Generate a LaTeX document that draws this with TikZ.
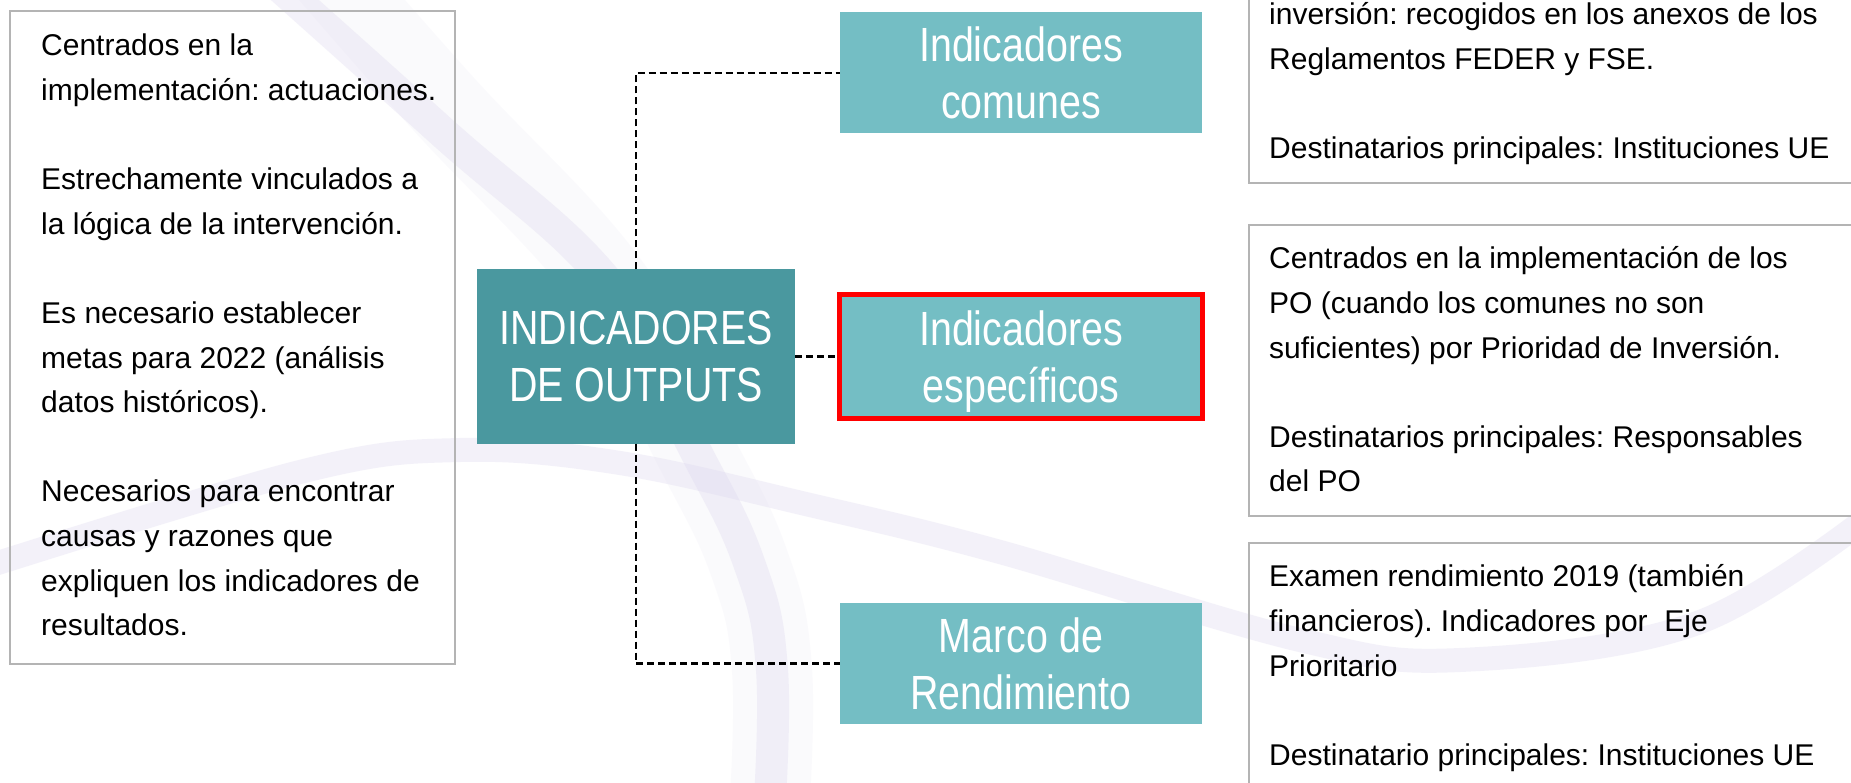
\documentclass[tikz,border=0pt]{standalone}
\usepackage{fontspec}
\setmainfont{Liberation Sans}
\newfontfamily\narrowfont[FakeStretch=0.82]{Liberation Sans}
\usetikzlibrary{calc}
\frenchspacing
\definecolor{tealdark}{HTML}{4A989F}
\definecolor{teallight}{HTML}{74BEC4}
\definecolor{boxgray}{HTML}{B4B4B4}
\definecolor{swirlcol}{HTML}{DCD6EE}
\begin{document}
\begin{tikzpicture}[x=1pt,y=-1pt,
  graybox/.style={draw=boxgray,line width=2pt,inner sep=0pt,anchor=north west},
  bodytxt/.style={anchor=north west,inner sep=0pt,align=left,text=black,
    font=\fontsize{30pt}{44.6pt}\selectfont},
  tealbox/.style={fill=teallight,inner sep=0pt,minimum width=362pt,minimum height=121pt,
    text=white,align=center,text depth=0pt,font=\narrowfont\fontsize{48pt}{57pt}\selectfont},
  mainbox/.style={fill=tealdark,inner sep=0pt,minimum width=318pt,minimum height=174pt,
    text=white,align=center,text depth=0pt,font=\narrowfont\fontsize{48pt}{57pt}\selectfont},
  redframe/.style={draw=red,line width=5pt},
  conn/.style={draw=black,line width=2.5pt,dash pattern=on 7pt off 4pt},
  swirlband/.style={draw=swirlcol,line cap=round,opacity=0.32}
]
\useasboundingbox (0,0) rectangle (1851,783);
\clip (0,0) rectangle (1851,783);
\fill[white] (0,0) rectangle (1851,783);

% background swirls
\draw[swirlband,line width=80pt,opacity=0.12] plot[smooth,tension=0.7] coordinates
  {(300,-60) (440,100) (610,285) (690,440) (748,560) (772,670) (768,830)};
\draw[swirlband,line width=32pt] plot[smooth,tension=0.7] coordinates
  {(250,-40) (440,130) (610,285) (690,440) (748,560) (772,670) (768,830)};
\draw[swirlband,line width=24pt] plot[smooth,tension=0.6] coordinates
  {(-40,575) (300,472) (460,450) (620,463) (810,505) (1000,552) (1300,640) (1460,660) (1700,622) (1890,500)};

% gray text boxes
\node[graybox,minimum width=445pt,minimum height=653pt] (leftbox) at (9,10) {};
\node[graybox,minimum width=700pt,minimum height=242pt] (rbox1) at (1248,-60) {};
\node[graybox,minimum width=700pt,minimum height=291pt] (rbox2) at (1248,224) {};
\node[graybox,minimum width=700pt,minimum height=300pt] (rbox3) at (1248,542) {};

% teal boxes and connectors
\node[mainbox] (central) at (636,356.5) {INDICADORES\\DE OUTPUTS};
\node[tealbox] (comunes) at (1021,73) {Indicadores\\comunes};
\node[tealbox,minimum width=363pt,minimum height=124pt] (especificos) at (1021,356.5) {Indicadores\\espec\'ificos};
\node[tealbox] (marco) at (1021,663.5) {Marco de\\Rendimiento};
\draw[conn] (central.north) |- (comunes.west);
\draw[conn] (central.east) -- (especificos.west);
\draw[conn] (central.south) |- (marco.west);
\draw[redframe] (especificos.north west) rectangle (especificos.south east);

% texts
\node[bodytxt] (lefttxt) at ($(leftbox.north west)+(32,14.5)$)
  {\strut Centrados en la\\implementación: actuaciones.\\[44.6pt]
   Estrechamente vinculados a\\la lógica de la intervención.\\[44.6pt]
   Es necesario establecer\\metas para 2022 (análisis\\datos históricos).\\[44.6pt]
   Necesarios para encontrar\\causas y razones que\\expliquen los indicadores de\\resultados.};
\node[bodytxt] (rtxt1) at ($(rbox1.north west)+(21,53.5)$)
  {\strut inversión: recogidos en los anexos de los\\Reglamentos FEDER y FSE.\\[44.6pt]
   Destinatarios principales: Instituciones UE};
\node[bodytxt] (rtxt2) at ($(rbox2.north west)+(21,13.5)$)
  {\strut Centrados en la implementación de los\\PO (cuando los comunes no son\\suficientes) por Prioridad de Inversión.\\[44.6pt]
   Destinatarios principales: Responsables\\del PO};
\node[bodytxt] (rtxt3) at ($(rbox3.north west)+(21,13.5)$)
  {\strut Examen rendimiento 2019 (también\\financieros). Indicadores por\ \ Eje\\Prioritario\\[44.6pt]
   Destinatario principales: Instituciones UE};
\end{tikzpicture}
\end{document}
